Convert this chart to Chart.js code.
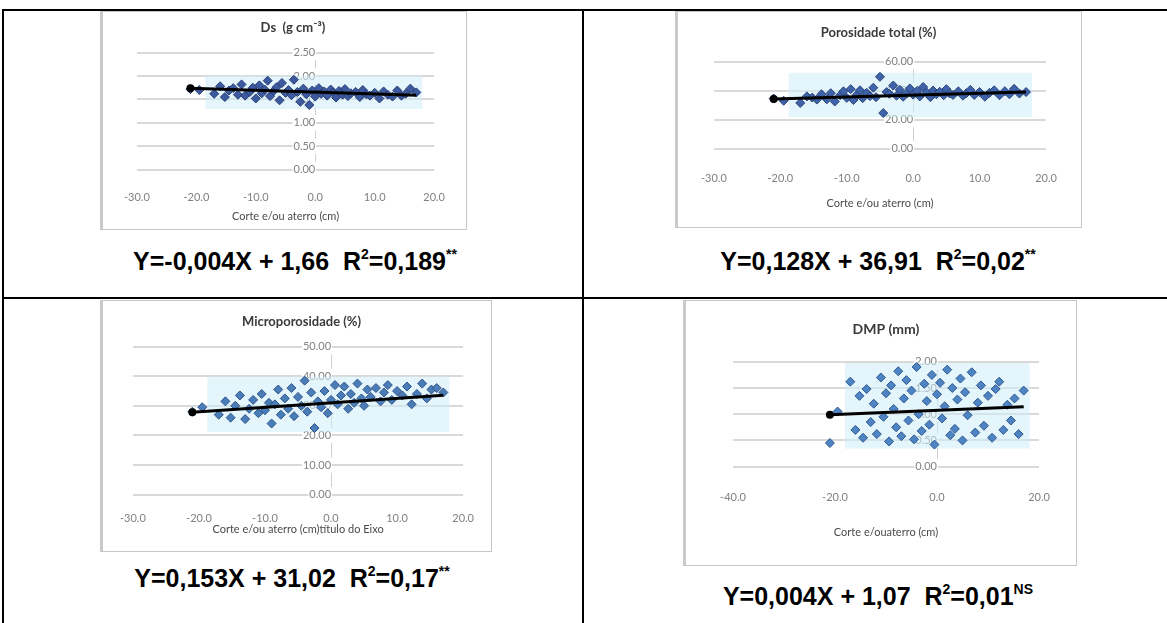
<!DOCTYPE html>
<html>
<head>
<meta charset="utf-8">
<script src="https://cdn.jsdelivr.net/npm/chart.js@4.4.0/dist/chart.umd.min.js"></script>
<style>
  body { margin: 0; background: #fff; width: 1167px; height: 623px; position: relative; overflow: hidden;
         font-family: "Liberation Sans", Arial, sans-serif; }
  .rule { position: absolute; background: #000; }
  .box { position: absolute; border: 1px solid #c6c6c6; border-left: 3px solid #c9c9c9; background: #fff; }
  .box canvas { display: block; filter: blur(0.5px); }
  .cap { position: absolute; font-weight: bold; font-size: 25px; white-space: pre; transform: translate(-50%, -50%); color: #000; }
  .cap sup { font-size: 14px; vertical-align: 11px; line-height: 0; }
</style>
</head>
<body>
<!-- table rules -->
<div class="rule" style="left:2px;top:9px;width:1165px;height:2px"></div>
<div class="rule" style="left:2px;top:9px;width:2px;height:614px"></div>
<div class="rule" style="left:582px;top:9px;width:2px;height:614px"></div>
<div class="rule" style="left:2px;top:297px;width:1165px;height:2px"></div>

<div class="box" style="left:100px;top:11px"><canvas id="c1" width="363" height="217"></canvas></div>
<div class="box" style="left:675px;top:11px"><canvas id="c2" width="403" height="215"></canvas></div>
<div class="box" style="left:100px;top:300px"><canvas id="c3" width="388" height="250"></canvas></div>
<div class="box" style="left:683px;top:300px"><canvas id="c4" width="390" height="264"></canvas></div>

<div class="cap" style="left:295px;top:261px">Y=-0,004X + 1,66  R<sup>2</sup>=0,189<sup>**</sup></div>
<div class="cap" style="left:878px;top:261px">Y=0,128X + 36,91  R<sup>2</sup>=0,02<sup>**</sup></div>
<div class="cap" style="left:292px;top:578px">Y=0,153X + 31,02  R<sup>2</sup>=0,17<sup>**</sup></div>
<div class="cap" style="left:878px;top:596px">Y=0,004X + 1,07  R<sup>2</sup>=0,01<sup>NS</sup></div>

<script>
// cut (-) / fill (+) depth, cm — shared by the four plots
const cutFill = [-21.0, -19.5, -17.0, -16.0, -15.2, -14.5, -13.8, -13.0, -12.4, -11.8,
                 -11.0, -10.5, -10.0, -9.4, -9.0, -8.5, -8.0, -7.6, -7.0, -6.5,
                 -6.0, -5.6, -5.0, -4.5, -4.0, -3.6, -3.0, -2.5, -2.0, -1.5,
                 -1.0, -0.5, 0.0, 0.6, 1.0, 1.5, 2.0, 2.6, 3.0, 3.5,
                 4.0, 4.6, 5.0, 5.5, 6.0, 6.8, 7.5, 8.0, 8.6, 9.2,
                 10.0, 10.8, 11.5, 12.2, 13.0, 13.8, 14.5, 15.2, 16.0, 17.0];

const ds = [1.72, 1.70, 1.62, 1.78, 1.55, 1.69, 1.74, 1.60, 1.82, 1.58,
            1.66, 1.75, 1.52, 1.80, 1.63, 1.71, 1.90, 1.57, 1.68, 1.76,
            1.48, 1.85, 1.64, 1.70, 1.59, 1.92, 1.66, 1.45, 1.73, 1.61,
            1.38, 1.69, 1.56, 1.74, 1.62, 1.67, 1.58, 1.71, 1.65, 1.54,
            1.68, 1.60, 1.72, 1.57, 1.63, 1.66, 1.55, 1.70, 1.61, 1.58,
            1.64, 1.52, 1.67, 1.60, 1.56, 1.69, 1.58, 1.62, 1.73, 1.65];

const porTotal = [34.5, 33.0, 31.5, 36.0, 35.2, 33.8, 37.5, 34.0, 38.2, 32.5,
                  36.8, 39.5, 35.0, 41.0, 33.5, 37.0, 40.2, 34.8, 38.5, 36.2,
                  42.0, 35.5, 49.5, 24.5, 39.0, 37.8, 43.5, 36.5, 40.5, 35.8,
                  38.0, 41.5, 37.2, 39.8, 36.0, 42.5, 38.8, 35.5, 40.0, 37.5,
                  39.2, 36.8, 41.0, 38.0, 37.0, 39.5, 36.5, 38.2, 40.5, 37.0,
                  39.0, 35.8, 38.5, 40.2, 36.8, 39.6, 37.5, 41.2, 38.0, 39.0];

const microPor = [28.0, 29.5, 27.0, 31.5, 26.0, 30.0, 33.5, 25.5, 29.0, 32.0,
                  27.5, 34.0, 28.5, 31.0, 24.0, 30.5, 35.5, 27.0, 32.5, 29.0,
                  36.0, 26.5, 33.0, 30.0, 38.5, 28.0, 34.5, 22.5, 31.5, 29.5,
                  35.0, 27.5, 32.0, 37.0, 30.5, 33.5, 36.5, 29.0, 34.0, 31.0,
                  37.5, 32.5, 30.0, 35.5, 33.0, 36.0, 31.5, 34.5, 37.0, 32.0,
                  35.0, 33.5, 36.5, 30.5, 34.0, 37.5, 32.5, 35.5, 36.0, 34.5];

const dmp = [0.45, 1.05, 1.62, 0.70, 1.35, 0.55, 1.48, 0.85, 1.20, 0.62,
             1.70, 0.95, 1.40, 0.48, 1.55, 1.10, 0.75, 1.82, 0.58, 1.30,
             1.65, 0.88, 1.45, 0.52, 1.90, 1.00, 0.68, 1.58, 1.25, 0.80,
             1.75, 0.42, 1.38, 1.60, 0.92, 1.15, 1.85, 0.60, 1.50, 0.72,
             1.28, 1.68, 0.50, 1.42, 0.98, 1.80, 0.65, 1.22, 1.55, 0.78,
             1.35, 0.55, 1.48, 1.62, 0.70, 1.18, 0.88, 1.30, 0.62, 1.45];

// linear trend ends (at cutFill -21 and 17)
const trendX = [-21, 17];
const dsTrend = [1.74, 1.59];
const porTotalTrend = [34.2, 39.1];
const microPorTrend = [27.8, 33.6];
const dmpTrend = [0.99, 1.14];

const chartFont = 'Lato, "Open Sans", sans-serif';

// pale blue shading behind the point cloud (as in the scanned figure)
const cloudShade = {
  id: 'cloudShade',
  beforeDatasetsDraw(chart) {
    const meta = chart.getDatasetMeta(1);
    const xs = meta.data.map(p => p.x), ys = meta.data.map(p => p.y);
    const {ctx} = chart;
    ctx.save();
    ctx.fillStyle = 'rgba(205, 236, 250, 0.55)';
    const x0 = Math.min(...xs) + 15, x1 = Math.max(...xs) + 6;
    const y0 = Math.min(...ys) - 4, y1 = Math.max(...ys) + 4;
    ctx.fillRect(x0, y0, x1 - x0, y1 - y0);
    ctx.restore();
  }
};

function scatterPlot(id, o) {
  const pts = cutFill.map((x, i) => ({ x: x, y: o.values[i] }));
  const trend = trendX.map((x, i) => ({ x: x, y: o.trend[i] }));
  return new Chart(document.getElementById(id), {
    type: 'scatter',
    data: {
      datasets: [
        { type: 'line', data: trend, borderColor: '#000', borderWidth: 3, order: 0,
          pointStyle: 'circle', backgroundColor: '#000', borderWidth: 3,
          pointRadius: ctx => ctx.dataIndex === 0 ? 2.5 : 0 },
        { data: pts, pointStyle: 'rectRot', pointRadius: 4.5, backgroundColor: o.color,
          borderColor: o.edge, borderWidth: 1, order: 1 }
      ]
    },
    options: {
      responsive: false,
      animation: false,
      devicePixelRatio: 1,
      layout: { padding: o.pad },
      plugins: {
        legend: { display: false },
        tooltip: { enabled: false },
        title: { display: true, text: o.title, color: '#3a3a3a',
                 font: { family: chartFont, size: o.titleSize || 13, weight: 'bold' }, padding: o.titlePad }
      },
      scales: {
        x: {
          type: 'linear', min: o.xMin, max: 20,
          ticks: { stepSize: o.xStep, callback: v => v.toFixed(1), color: '#808080', maxRotation: 0,
                   font: { family: chartFont, size: 11 }, padding: o.tickPad },
          grid: { display: false, drawTicks: false },
          border: { display: false },
          title: { display: true, text: o.xTitle, color: '#4a4a4a',
                   font: { family: chartFont, size: 11 }, padding: o.xTitlePad }
        },
        y: {
          min: 0, max: o.yMax, position: { x: 0 },
          ticks: { stepSize: o.yStep, callback: v => v.toFixed(2), color: '#808080',
                   font: { family: chartFont, size: 11 }, padding: 1,
                   showLabelBackdrop: true, backdropColor: '#fff', backdropPadding: 1 },
          grid: { color: '#d9d9d9', lineWidth: 2, drawTicks: false },
          border: { display: true, color: '#cfcfcf', width: 1 }
        }
      }
    },
    plugins: [cloudShade]
  });
}

scatterPlot('c1', {
  values: ds, trend: dsTrend, title: 'Ds  (g cm⁻³)', xTitle: 'Corte e/ou aterro (cm)',
  xMin: -30, xStep: 10, yMax: 2.5, yStep: 0.5, color: '#3d5aa0', edge: '#283d73',
  pad: { top: 4, bottom: 2, left: 30, right: 13 }, titlePad: { top: 4, bottom: 17 },
  tickPad: 21, xTitlePad: { top: -15, bottom: 4 }
});

scatterPlot('c2', {
  values: porTotal, trend: porTotalTrend, title: 'Porosidade total (%)', xTitle: 'Corte e/ou aterro (cm)',
  xMin: -30, xStep: 10, yMax: 60, yStep: 20, color: '#3f63aa', edge: '#2a4478',
  pad: { top: 4, bottom: 2, left: 33, right: 35 }, titlePad: { top: 9, bottom: 21 },
  tickPad: 23, xTitlePad: { top: -11, bottom: 15 }
});

scatterPlot('c3', {
  values: microPor, trend: microPorTrend, title: 'Microporosidade (%)',
  xTitle: 'Corte e/ou aterro (cm)título do Eixo',
  xMin: -30, xStep: 10, yMax: 50, yStep: 10, color: '#4a7cb8', edge: '#30568a',
  pad: { top: 4, bottom: 2, left: 29, right: 20 }, titlePad: { top: 9, bottom: 17 },
  tickPad: 17, xTitlePad: { top: -19, bottom: 13 }
});

scatterPlot('c4', {
  values: dmp, trend: dmpTrend, title: 'DMP (mm)', titleSize: 14, xTitle: 'Corte e/ouaterro (cm)',
  xMin: -40, xStep: 20, yMax: 2, yStep: 0.5, color: '#4f84c4', edge: '#2f5a8e',
  pad: { top: 4, bottom: 2, left: 47, right: 37 }, titlePad: { top: 16, bottom: 24 },
  tickPad: 24, xTitlePad: { top: -2, bottom: 24 }
});
</script>
</body>
</html>
